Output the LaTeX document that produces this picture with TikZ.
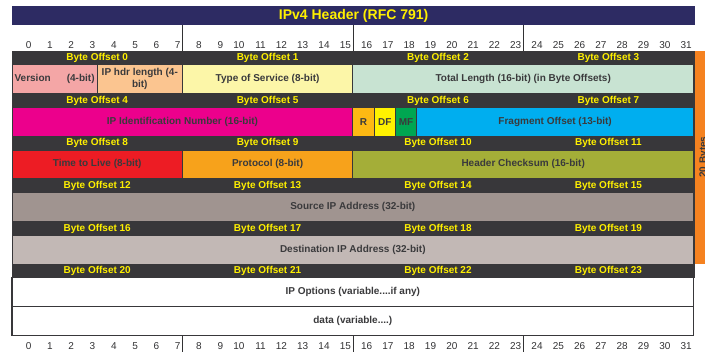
\documentclass[tikz,border=0pt]{standalone}
\usepackage{fontspec}
\setmainfont{Liberation Sans}
\usepackage{xcolor}
\usepackage{tikz}

\definecolor{titlenavy}{RGB}{45,43,99}
\definecolor{bandgray}{RGB}{56,55,58}
\definecolor{hdryellow}{RGB}{255,240,0}
\definecolor{txtgray}{RGB}{58,58,60}
\definecolor{numgray}{RGB}{50,50,52}
\definecolor{verpink}{RGB}{244,166,166}
\definecolor{ihlpeach}{RGB}{251,197,144}
\definecolor{tosyellow}{RGB}{252,246,168}
\definecolor{lengreen}{RGB}{200,227,210}
\definecolor{idmagenta}{RGB}{236,0,140}
\definecolor{rorange}{RGB}{253,185,19}
\definecolor{dfyellow}{RGB}{255,242,0}
\definecolor{mfgreen}{RGB}{0,166,81}
\definecolor{fragcyan}{RGB}{0,174,239}
\definecolor{ttlred}{RGB}{237,28,36}
\definecolor{protoorange}{RGB}{247,162,27}
\definecolor{sumolive}{RGB}{164,174,56}
\definecolor{srctaupe}{RGB}{160,148,144}
\definecolor{dsttaupe}{RGB}{194,184,181}
\definecolor{sidebar}{RGB}{245,130,32}

\begin{document}
\begin{tikzpicture}[
  x=21.3pt, y=-1pt,
  hdrtxt/.style={font=\bfseries\fontsize{14}{16}\selectfont, text=hdryellow, inner sep=0pt},
  bitnum/.style={font=\fontsize{10}{12}\selectfont, text=numgray, inner sep=0pt, anchor=east},
  offtxt/.style={font=\bfseries\fontsize{10}{12}\selectfont, text=hdryellow, inner sep=0pt},
  field/.style={draw=bandgray, line width=0.8pt},
  fieldtxt/.style={font=\bfseries\fontsize{10}{12}\selectfont, text=txtgray,
                   align=center, inner sep=0pt},
  optbox/.style={draw=bandgray, fill=white, line width=1.1pt},
  tickline/.style={draw=numgray, line width=0.6pt},
]
  \useasboundingbox (-0.5634,0) rectangle (32.5352,352);
  \clip (-0.5634,0) rectangle (32.5352,352);

  % title bar
  \fill[titlenavy] (0,6) rectangle (32.08,25);
  \node[hdrtxt] (title) at (16.04,15.5) {IPv4 Header (RFC 791)};

  % bit numbers, top and bottom
  \foreach \i in {0,...,31} {
    \node[bitnum] (bt\i) at (\i+0.92,45) {\i};
    \node[bitnum] (bb\i) at (\i+0.92,346) {\i};
  }
  \foreach \b in {8,16,24} {
    \draw[tickline] (\b,25) -- (\b,51);
    \draw[tickline] (\b,336) -- (\b,352);
  }

  % side bar
  \fill[sidebar] (32.05,51) rectangle (33,264);
  \node[offtxt, text=txtgray, rotate=90] (bytes) at (32.49,157) {20 Bytes};

  % dark band behind the header words
  \fill[bandgray] (0,51) rectangle (32.05,278);

  % byte offsets
  \foreach \k in {0,...,5}
    \foreach \b in {0,...,3} {
      \pgfmathtruncatemacro\n{4*\k+\b}
      \node[offtxt] (off\n) at (8*\b+4,{58.2+42.6*\k}) {Byte Offset \n};
    }

  % word 0
  \draw[field, fill=verpink] (0,64.8) rectangle (4,93.6);
  \draw[field, fill=ihlpeach] (4,64.8) rectangle (8,93.6);
  \draw[field, fill=tosyellow] (8,64.8) rectangle (16,93.6);
  \draw[field, fill=lengreen] (16,64.8) rectangle (32,93.6);
  \node[fieldtxt, text width=80pt] (version) at (2,79.2) {Version\hfill(4-bit)};
  \node[fieldtxt] (ihl) at (6,79.2) {IP hdr length (4-\\bit)};
  \node[fieldtxt] (tos) at (12,79.2) {Type of Service (8-bit)};
  \node[fieldtxt] (totlen) at (24,79.2) {Total Length (16-bit) (in Byte Offsets)};

  % word 1
  \draw[field, fill=idmagenta] (0,107.4) rectangle (16,136.2);
  \draw[field, fill=rorange] (16,107.4) rectangle (17,136.2);
  \draw[field, fill=dfyellow] (17,107.4) rectangle (18,136.2);
  \draw[field, fill=mfgreen] (18,107.4) rectangle (19,136.2);
  \draw[field, fill=fragcyan] (19,107.4) rectangle (32,136.2);
  \node[fieldtxt] (ident) at (8,121.8) {IP Identification Number (16-bit)};
  \node[fieldtxt] (rflag) at (16.5,121.8) {R};
  \node[fieldtxt] (dfflag) at (17.5,121.8) {DF};
  \node[fieldtxt] (mfflag) at (18.5,121.8) {MF};
  \node[fieldtxt] (fragoff) at (25.5,121.8) {Fragment Offset (13-bit)};

  % word 2
  \draw[field, fill=ttlred] (0,150) rectangle (8,178.8);
  \draw[field, fill=protoorange] (8,150) rectangle (16,178.8);
  \draw[field, fill=sumolive] (16,150) rectangle (32,178.8);
  \node[fieldtxt] (ttl) at (4,164.4) {Time to Live (8-bit)};
  \node[fieldtxt] (proto) at (12,164.4) {Protocol (8-bit)};
  \node[fieldtxt] (cksum) at (24,164.4) {Header Checksum (16-bit)};

  % words 3 and 4
  \draw[field, fill=srctaupe] (0,192.6) rectangle (32,221.4);
  \node[fieldtxt] (srcip) at (16,207) {Source IP Address (32-bit)};
  \draw[field, fill=dsttaupe] (0,235.2) rectangle (32,264);
  \node[fieldtxt] (dstip) at (16,249.6) {Destination IP Address (32-bit)};

  % options and payload
  \draw[optbox] (0,277.8) rectangle (32,306.8);
  \draw[optbox] (0,306.8) rectangle (32,335.8);
  \node[fieldtxt] (opts) at (16,292.3) {IP Options (variable....if any)};
  \node[fieldtxt] (data) at (16,321.3) {data (variable....)};
\end{tikzpicture}
\end{document}
